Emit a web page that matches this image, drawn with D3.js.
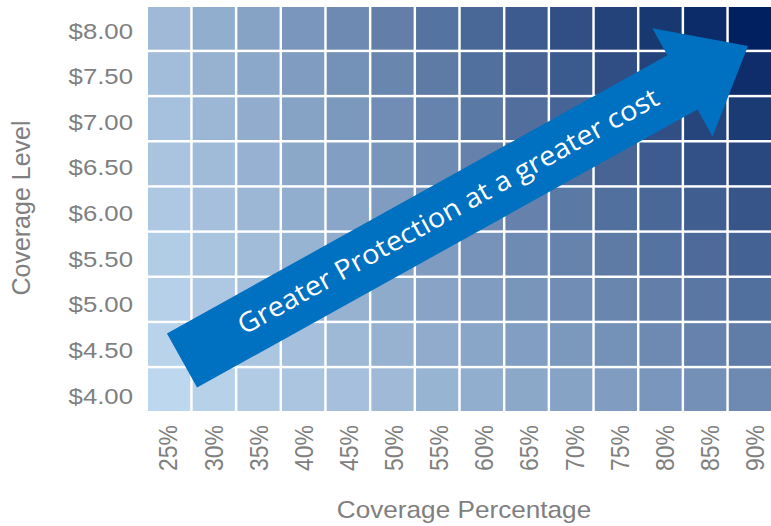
<!DOCTYPE html>
<html>
<head>
<meta charset="utf-8">
<script src="https://cdn.jsdelivr.net/npm/d3@7"></script>
<style>
  html, body { margin: 0; padding: 0; background: #fff; }
  svg { display: block; }
</style>
</head>
<body>
<svg id="chart" width="771" height="526"></svg>
<script>
// ---- data ----
const coveragePercentages = ["25%","30%","35%","40%","45%","50%","55%","60%","65%","70%","75%","80%","85%","90%"];
const coverageLevels = ["$8.00","$7.50","$7.00","$6.50","$6.00","$5.50","$5.00","$4.50","$4.00"];
// cell shade values (one row per coverage level, top to bottom)
const row800 = [2.00,2.40,2.80,3.20,3.60,4.00,4.40,4.80,5.20,5.60,6.00,6.40,6.80,7.20];
const row750 = [1.88,2.25,2.63,3.00,3.38,3.75,4.13,4.50,4.88,5.25,5.63,6.00,6.38,6.75];
const row700 = [1.75,2.10,2.45,2.80,3.15,3.50,3.85,4.20,4.55,4.90,5.25,5.60,5.95,6.30];
const row650 = [1.63,1.95,2.28,2.60,2.93,3.25,3.58,3.90,4.23,4.55,4.88,5.20,5.53,5.85];
const row600 = [1.50,1.80,2.10,2.40,2.70,3.00,3.30,3.60,3.90,4.20,4.50,4.80,5.10,5.40];
const row550 = [1.38,1.65,1.93,2.20,2.48,2.75,3.03,3.30,3.58,3.85,4.13,4.40,4.68,4.95];
const row500 = [1.25,1.50,1.75,2.00,2.25,2.50,2.75,3.00,3.25,3.50,3.75,4.00,4.25,4.50];
const row450 = [1.13,1.35,1.58,1.80,2.03,2.25,2.48,2.70,2.93,3.15,3.38,3.60,3.83,4.05];
const row400 = [1.00,1.20,1.40,1.60,1.80,2.00,2.20,2.40,2.60,2.80,3.00,3.20,3.40,3.60];
const cellValues = [row800,row750,row700,row650,row600,row550,row500,row450,row400];
const xTitle = "Coverage Percentage";
const yTitle = "Coverage Level";
const arrowLabel = "Greater Protection at a greater cost";

// ---- layout ----
const svg = d3.select("#chart");
const grid = { left: 148, right: 771, top: 7, bottom: 411 };
const textColor = "#7f7f7f";
const font = "'Liberation Sans', Arial, sans-serif";

const x = d3.scaleBand().domain(coveragePercentages).range([grid.left, grid.right]).paddingInner(0.055).paddingOuter(0);
const y = d3.scaleBand().domain(coverageLevels).range([grid.top, grid.bottom]).paddingInner(0.055).paddingOuter(0);
const xLabelPos = d3.scalePoint().domain(coveragePercentages).range([168.5, 755]);
const yLabelPos = d3.scalePoint().domain(coverageLevels).range([30.5, 395.5]);

const flat = [];
cellValues.forEach((row, i) => row.forEach((v, j) => flat.push({ level: coverageLevels[i], pct: coveragePercentages[j], v })));
const color = d3.scaleLinear()
  .domain(d3.extent(flat, d => d.v))
  .range(["#bdd7ee", "#002060"])
  .interpolate(d3.interpolateRgb);

svg.append("g").selectAll("rect").data(flat).join("rect")
  .attr("x", d => x(d.pct))
  .attr("y", d => y(d.level))
  .attr("width", x.bandwidth())
  .attr("height", y.bandwidth())
  .attr("fill", d => color(d.v));

// y tick labels
svg.append("g").selectAll("text").data(coverageLevels).join("text")
  .attr("transform", d => `translate(133,${yLabelPos(d)}) scale(1.12,1)`)
  .attr("text-anchor", "end")
  .attr("dominant-baseline", "central")
  .attr("font-family", font)
  .attr("font-size", 23)
  .attr("fill", textColor)
  .text(d => d);

// x tick labels
svg.append("g").selectAll("text").data(coveragePercentages).join("text")
  .attr("transform", d => `translate(${xLabelPos(d)},425) scale(1.12,1) rotate(-90)`)
  .attr("text-anchor", "end")
  .attr("dominant-baseline", "central")
  .attr("font-family", font)
  .attr("font-size", 23)
  .attr("fill", textColor)
  .text(d => d);

// axis titles
svg.append("text")
  .attr("transform", "translate(464,518) scale(1.09,1)")
  .attr("text-anchor", "middle")
  .attr("font-family", font)
  .attr("font-size", 24)
  .attr("fill", textColor)
  .text(xTitle);

svg.append("text")
  .attr("transform", "translate(21,208) rotate(-90)")
  .attr("text-anchor", "middle")
  .attr("dominant-baseline", "central")
  .attr("font-family", font)
  .attr("font-size", 25)
  .attr("fill", textColor)
  .text(yTitle);

// ---- arrow annotation ----
const tail = [182, 360.5], tip = [748, 46];
const shaftHalf = 31, headHalf = 62, headLen = 75;
const dx = tip[0] - tail[0], dy = tip[1] - tail[1];
const len = Math.hypot(dx, dy);
const u = [dx / len, dy / len], n = [-u[1], u[0]];
const base = [tip[0] - u[0] * headLen, tip[1] - u[1] * headLen];
const P = (p, k, m) => [p[0] + n[0] * k + u[0] * (m || 0), p[1] + n[1] * k + u[1] * (m || 0)];
const pts = [
  P(tail, -shaftHalf), P(base, -shaftHalf), P(base, -headHalf), tip,
  P(base, headHalf), P(base, shaftHalf), P(tail, shaftHalf)
];
svg.append("path")
  .attr("d", d3.line()(pts) + "Z")
  .attr("fill", "#0070c0");

const angle = Math.atan2(dy, dx) * 180 / Math.PI;
const mid = P(tail, 8, 305);
svg.append("text")
  .attr("transform", `translate(${mid[0]},${mid[1]}) rotate(${angle})`)
  .attr("text-anchor", "middle")
  .attr("font-family", "'Open Sans', 'Noto Sans', sans-serif")
  .attr("font-size", 27)
  .attr("fill", "#ffffff")
  .attr("textLength", 477)
  .attr("lengthAdjust", "spacingAndGlyphs")
  .text(arrowLabel);
</script>
</body>
</html>
